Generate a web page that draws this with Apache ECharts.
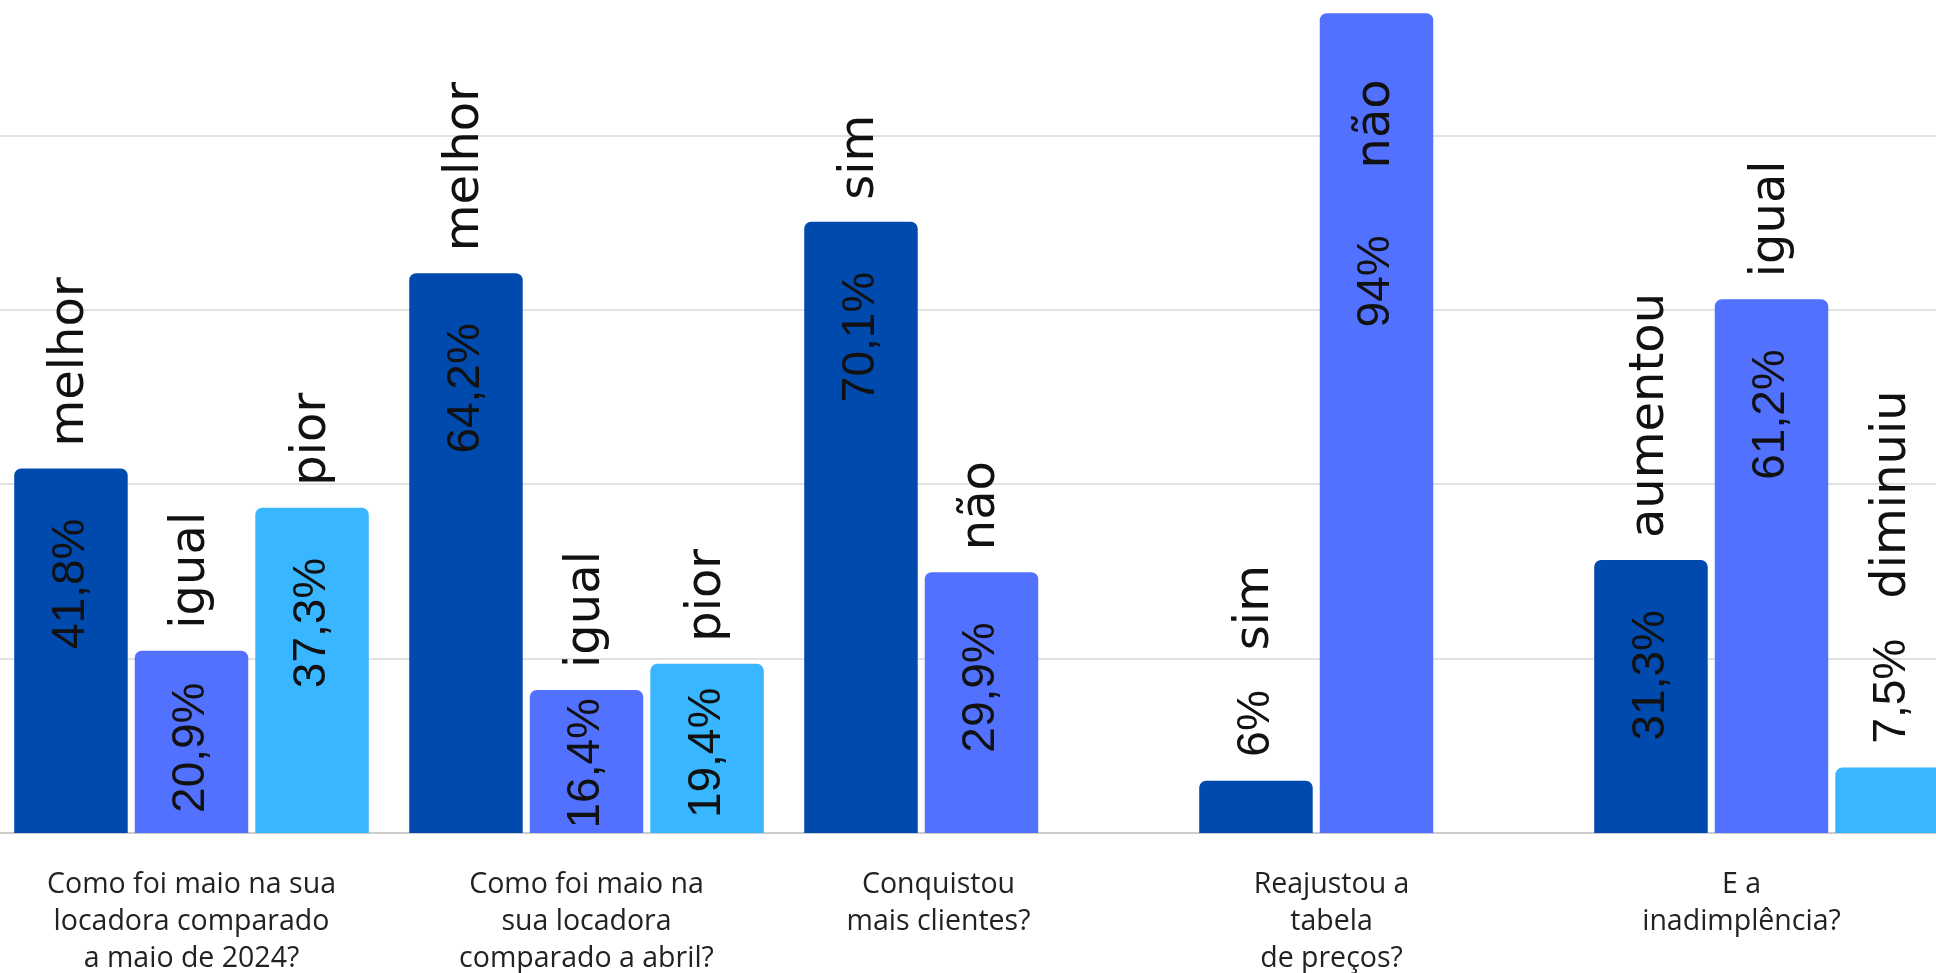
<!DOCTYPE html>
<html>
<head>
<meta charset="utf-8">
<script src="https://cdn.jsdelivr.net/npm/echarts@6/dist/echarts.min.js"></script>
<style>
html,body{margin:0;padding:0;background:#fff;width:1936px;height:973px;overflow:hidden;position:relative;}
#chart{position:absolute;left:-6px;top:-39px;width:1975px;height:1012px;}
</style>
</head>
<body>
<div id="chart"></div>
<script>
// ---- data ----
const categories = [
  'Como foi maio na sua\nlocadora comparado\na maio de 2024?',
  'Como foi maio na\nsua locadora\ncomparado a abril?',
  'Conquistou\nmais clientes?',
  'Reajustou a\ntabela\nde preços?',
  'E a\ninadimplência?'
];
const names1 = ['melhor', 'melhor', 'sim', 'sim', 'aumentou'];
const values1 = [41.8, 64.2, 70.1, 6, 31.3];
const names2 = ['igual', 'igual', 'não', 'não', 'igual'];
const values2 = [20.9, 16.4, 29.9, 94, 61.2];
const names3 = ['pior', 'pior', null, null, 'diminuiu'];
const values3 = [37.3, 19.4, null, null, 7.5];
const yTicks = [0, 20, 40, 60, 80, 100];

// ---- styling ----
const colors = ['#004AAD', '#5271FF', '#38B6FF'];
const valueFont = { fontFamily: '"Liberation Sans", Arial, sans-serif', fontSize: 46, color: '#111' };
const nameFont = { fontFamily: '"DejaVu Sans", sans-serif', fontSize: 48, color: '#111' };
const labelShift = [0, 0, 43, 45, 30];
const PX_PER_UNIT = 8.75;   // plot height / axis range, used only to keep value text inside short bars
const VALUE_TEXT_LEN = 130;

function fmt(v) { return String(v).replace('.', ',') + '%'; }

function mainData(vals) {
  return vals.map(v => {
    if (v == null) return null;
    let label;
    if (v < 10) label = { show: false };
    else if (v >= 90) label = { show: true, position: 'insideTop', distance: 222 };
    else {
      const room = v * PX_PER_UNIT - VALUE_TEXT_LEN;
      label = { show: true, position: 'insideTop', distance: Math.min(50, Math.max(3, room * 0.6)) };
    }
    return { value: v, label };
  });
}
function nameData(vals, names) {
  return vals.map((v, i) => {
    if (v == null) return null;
    let label;
    if (v < 10) label = { show: true, position: 'top', distance: 24, align: 'left',
      formatter: '{v|' + fmt(v) + '}{g|}{n|' + names[i] + '}' };
    else if (v >= 90) label = { show: true, position: 'insideTop', distance: 66, align: 'right',
      formatter: names[i] };
    else label = { show: true, position: 'top', distance: 22, align: 'left', formatter: names[i] };
    return { value: 0, label };
  });
}

const slots = [[values1, names1], [values2, names2], [values3, names3]];
const series = [];
slots.forEach(([vals, nms], k) => {
  series.push({
    type: 'bar', stack: 's' + k, barWidth: 113.5, barGap: '6.2%',
    itemStyle: { color: colors[k], borderRadius: [7, 7, 0, 0] },
    label: Object.assign({ show: true, rotate: 90, align: 'right', verticalAlign: 'middle',
      formatter: p => fmt(p.value) }, valueFont),
    data: mainData(vals), z: 2
  });
  series.push({
    type: 'bar', stack: 's' + k, barWidth: 113.5, barGap: '6.2%',
    itemStyle: { color: 'rgba(0,0,0,0)' },
    label: Object.assign({ show: true, rotate: 90, align: 'left', verticalAlign: 'middle',
      rich: { v: valueFont, g: { width: 40 }, n: nameFont } }, nameFont),
    data: nameData(vals, nms), z: 3
  });
});

const rich = {};
labelShift.forEach((s, i) => {
  rich['c' + i] = { fontFamily: '"Open Sans", sans-serif', fontSize: 28.5, color: '#222',
    lineHeight: 37, padding: [0, 2 * s, 0, 0] };
});

const chart = echarts.init(document.getElementById('chart'));
chart.setOption({
  animation: false,
  backgroundColor: '#fff',
  grid: { left: 0, right: 0, top: 0, bottom: 137, containLabel: false },
  xAxis: {
    type: 'category', data: categories,
    axisLine: { lineStyle: { color: '#cccccc', width: 2 } },
    axisTick: { show: false },
    axisLabel: {
      interval: 0, margin: 33, verticalAlign: 'top',
      formatter: (val, idx) => val.split('\n').map(l => '{c' + idx + '|' + l + '}').join('\n'),
      rich
    }
  },
  yAxis: {
    type: 'value', min: yTicks[0], max: yTicks[yTicks.length - 1], interval: 20,
    axisLabel: { show: false }, axisLine: { show: false }, axisTick: { show: false },
    splitLine: { lineStyle: { color: '#e2e2e2', width: 2 } }
  },
  series
});
</script>
</body>
</html>
